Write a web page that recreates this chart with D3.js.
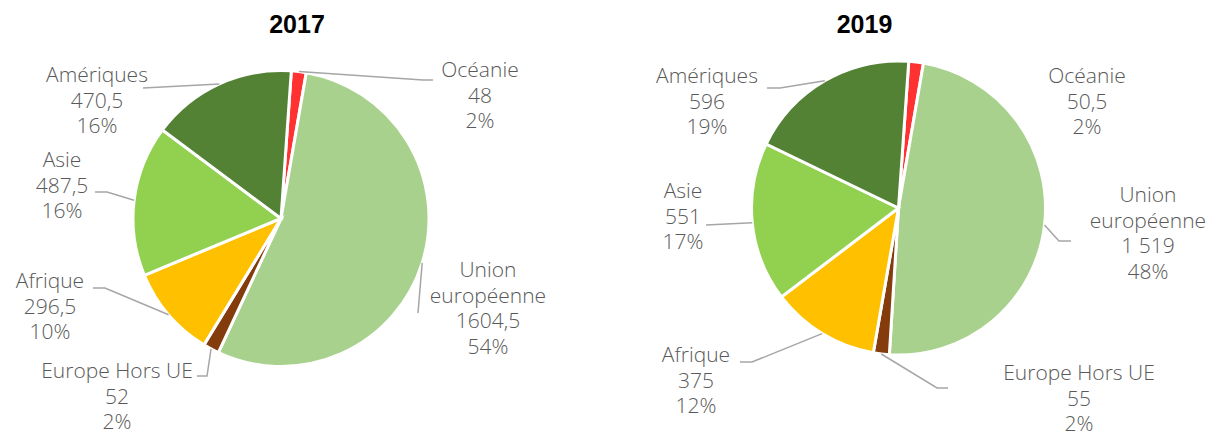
<!DOCTYPE html>
<html>
<head>
<meta charset="utf-8">
<script src="https://cdn.jsdelivr.net/npm/d3@7"></script>
<style>
  html, body { margin: 0; padding: 0; background: #fff; }
  svg { display: block; }
  .lbl { font-family: "Open Sans", sans-serif; font-weight: 300; font-size: 21px; fill: #595959; }
  .ttl { font-family: "Liberation Sans", Arial, sans-serif; font-weight: bold; font-size: 25px; fill: #000; }
</style>
</head>
<body>
<script>
// ---- data ----
const categories = ["Océanie", "Union européenne", "Europe Hors UE", "Afrique", "Asie", "Amériques"];
const nameLines = [["Océanie"], ["Union", "européenne"], ["Europe Hors UE"], ["Afrique"], ["Asie"], ["Amériques"]];
const values2017 = [48, 1604.5, 52, 296.5, 487.5, 470.5];
const values2019 = [50.5, 1519, 55, 375, 551, 596];
const valueLabels2017 = ["48", "1604,5", "52", "296,5", "487,5", "470,5"];
const valueLabels2019 = ["50,5", "1 519", "55", "375", "551", "596"];
const percentLabels2017 = ["2%", "54%", "2%", "10%", "16%", "16%"];
const percentLabels2019 = ["2%", "48%", "2%", "12%", "17%", "19%"];
const titles = ["2017", "2019"];
const colors = ["#FF3131", "#A9D18E", "#843C0C", "#FFC000", "#92D050", "#548235"];

// ---- layout (positions only) ----
const W = 1213, H = 437;
const charts = [
  {
    title: titles[0], values: values2017, valueLabels: valueLabels2017, percents: percentLabels2017,
    cx: 281, cy: 218.5, r: 148, titleX: 297, titleY: 33,
    labels: [
      { x: 480, y: 77, line: [[433, 80], [423, 80]] },
      { x: 488, y: 277, line: [[418, 313]] },
      { x: 117, y: 378, line: [[197, 376], [207, 376]] },
      { x: 50, y: 288, line: [[93, 288], [105, 288]] },
      { x: 62, y: 167, line: [[95, 192], [107, 192]] },
      { x: 97, y: 82, line: [[143, 88]] }
    ]
  },
  {
    title: titles[1], values: values2019, valueLabels: valueLabels2019, percents: percentLabels2019,
    cx: 898.5, cy: 208, r: 147, titleX: 864.5, titleY: 33,
    labels: [
      { x: 1087, y: 83, line: null },
      { x: 1148, y: 202, line: [[1071, 241], [1059, 241]] },
      { x: 1079, y: 380, line: [[948, 388], [937, 388]] },
      { x: 696, y: 362, line: [[740, 362], [752, 362]] },
      { x: 683, y: 198, line: [[706, 225]] },
      { x: 707, y: 83, line: [[767, 88], [780, 88]] }
    ]
  }
];
const lineH = 25.5;
const startOffset = 4 * Math.PI / 180;

const svg = d3.select("body").append("svg").attr("width", W).attr("height", H);

charts.forEach(ch => {
  const pie = d3.pie().sort(null).value(d => d)
    .startAngle(startOffset).endAngle(startOffset + 2 * Math.PI);
  const arcs = pie(ch.values);
  const arc = d3.arc().innerRadius(0).outerRadius(ch.r);

  svg.append("text").attr("class", "ttl").attr("x", ch.titleX).attr("y", ch.titleY)
    .attr("text-anchor", "middle").text(ch.title);

  const g = svg.append("g").attr("transform", `translate(${ch.cx},${ch.cy})`);
  g.selectAll("path.slice").data(arcs).enter().append("path")
    .attr("class", "slice")
    .attr("d", arc)
    .attr("fill", (d, i) => colors[i])
    .attr("stroke", "#fff")
    .attr("stroke-width", 3)
    .attr("stroke-linejoin", "miter");

  // leader lines
  arcs.forEach((a, i) => {
    const L = ch.labels[i];
    if (!L.line) return;
    const mid = (a.startAngle + a.endAngle) / 2;
    const ex = ch.cx + ch.r * Math.sin(mid);
    const ey = ch.cy - ch.r * Math.cos(mid);
    const pts = L.line.concat([[ex, ey]]);
    svg.append("path")
      .attr("d", d3.line()(pts))
      .attr("fill", "none")
      .attr("stroke", "#A6A6A6")
      .attr("stroke-width", 1.5);
  });

  // labels
  arcs.forEach((a, i) => {
    const L = ch.labels[i];
    const lines = nameLines[i].concat([ch.valueLabels[i], ch.percents[i]]);
    const t = svg.append("text").attr("class", "lbl").attr("text-anchor", "middle");
    lines.forEach((s, k) => {
      t.append("tspan").attr("x", L.x).attr("y", L.y + k * lineH).text(s);
    });
  });
});
</script>
</body>
</html>
